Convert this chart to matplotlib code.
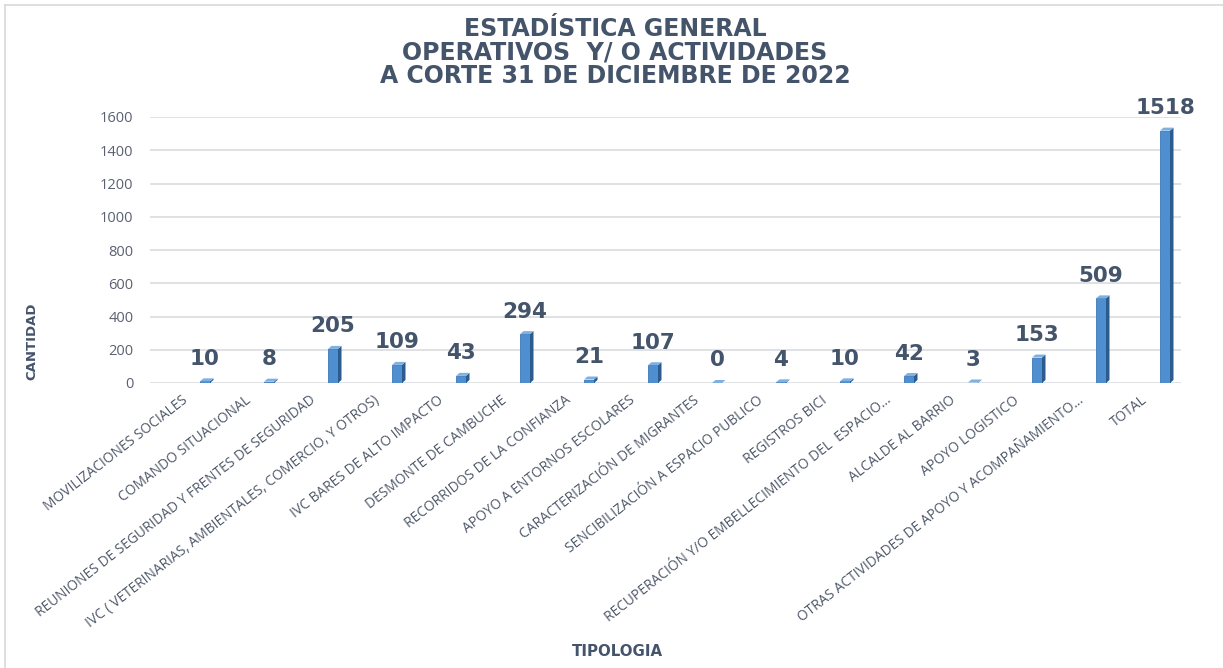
import matplotlib
matplotlib.use("Agg")
import matplotlib.pyplot as plt
from matplotlib.patches import Polygon
from matplotlib.lines import Line2D
import matplotlib.transforms as mtransforms

categories = [
    "MOVILIZACIONES SOCIALES",
    "COMANDO SITUACIONAL",
    "REUNIONES DE SEGURIDAD Y FRENTES DE SEGURIDAD",
    "IVC ( VETERINARIAS, AMBIENTALES, COMERCIO, Y OTROS)",
    "IVC BARES DE ALTO IMPACTO",
    "DESMONTE DE CAMBUCHE",
    "RECORRIDOS DE LA CONFIANZA",
    "APOYO A ENTORNOS ESCOLARES",
    "CARACTERIZACIÓN DE MIGRANTES",
    "SENCIBILIZACIÓN A ESPACIO PUBLICO",
    "REGISTROS BICI",
    "RECUPERACIÓN Y/O EMBELLECIMIENTO DEL  ESPACIO…",
    "ALCALDE AL BARRIO",
    "APOYO LOGISTICO",
    "OTRAS ACTIVIDADES DE APOYO Y ACOMPAÑAMIENTO…",
    "TOTAL",
]
values = [10, 8, 205, 109, 43, 294, 21, 107, 0, 4, 10, 42, 3, 153, 509, 1518]
yticks = [0, 200, 400, 600, 800, 1000, 1200, 1400, 1600]
title_lines = ["ESTADÍSTICA GENERAL", "OPERATIVOS  Y/ O ACTIVIDADES",
               "A CORTE 31 DE DICIEMBRE DE 2022"]

W, H = 1223, 668
fig = plt.figure(figsize=(W / 100, H / 100), dpi=100)
fig.patch.set_facecolor("white")

ax_l, ax_r, ax_b, ax_t = 150, 1181, 383, 117
ax = fig.add_axes([ax_l / W, 1 - ax_b / H, (ax_r - ax_l) / W, (ax_b - ax_t) / H])
ax.set_facecolor("white")

x0_px, step_px = 205, 64.0
ax.set_xlim((ax_l - x0_px) / step_px, (ax_r - x0_px) / step_px)
ax.set_ylim(0, 1600)

for s in ax.spines.values():
    s.set_visible(False)
ax.set_yticks(yticks)
ax.yaxis.grid(True, color="#DCDEE2", linewidth=1.3)
ax.set_axisbelow(True)
ax.tick_params(axis="both", length=0)
ax.tick_params(axis="y", pad=12, labelsize=10.5, labelcolor="#5a6170")

# pixel -> data conversions
px_x = 1.0 / step_px
px_y = 1600.0 / (ax_b - ax_t)

front_w = 10 * px_x
side_dx = 3.5 * px_x
side_dy = 3.0 * px_y
xs = list(range(len(values)))

ax.bar(xs, values, width=front_w, color="#4F8FD0", edgecolor="#3D78B8",
       linewidth=0.6, zorder=3)
for x, v in zip(xs, values):
    r = x + front_w / 2
    l = x - front_w / 2
    side = Polygon([(r, 0), (r, v), (r + side_dx, v + side_dy), (r + side_dx, side_dy)],
                   closed=True, facecolor="#2C5C8F", edgecolor="none", zorder=3)
    top = Polygon([(l, v), (r, v), (r + side_dx, v + side_dy), (l + side_dx, v + side_dy)],
                  closed=True, facecolor="#7DB0E3", edgecolor="none", zorder=4)
    ax.add_patch(side)
    ax.add_patch(top)
    ax.annotate(str(v), (x, v), xytext=(0, 9), textcoords="offset points",
                ha="center", va="bottom", fontsize=15.5, fontweight="bold",
                color="#44546A", family="DejaVu Sans")

ax.set_xticks(xs)
ax.set_xticklabels(categories, rotation=38, ha="right", va="top",
                   rotation_mode="anchor", fontsize=9.9, color="#4E5869",
                   family="Open Sans")
offset = mtransforms.ScaledTranslation(-24 / 100, -5 / 100, fig.dpi_scale_trans)
for lab in ax.get_xticklabels():
    lab.set_transform(lab.get_transform() + offset)

for lab in ax.get_yticklabels():
    lab.set_family("Open Sans")

# titles
title_y = [29, 52, 76]
for t, y in zip(title_lines, title_y):
    fig.text(615 / W, 1 - y / H, t, ha="center", va="center", fontsize=17,
             fontweight="bold", color="#44546A", family="DejaVu Sans")

fig.text(32 / W, 1 - 341 / H, "CANTIDAD", rotation=90, ha="center", va="center",
         fontsize=9.5, fontweight="bold", color="#44546A", family="DejaVu Sans")
fig.text(617 / W, 1 - 652 / H, "TIPOLOGIA", ha="center", va="center",
         fontsize=10.8, fontweight="bold", color="#44546A", family="DejaVu Sans")

# chart frame (top and left edges)
fig.add_artist(Line2D([5 / W, 5 / W], [0, 1 - 5 / H], transform=fig.transFigure,
                      color="#D9D9D9", linewidth=1.2))
fig.add_artist(Line2D([5 / W, 1], [1 - 5 / H, 1 - 5 / H], transform=fig.transFigure,
                      color="#D9D9D9", linewidth=1.2))

fig.savefig("out.png", dpi=100, facecolor="white")
